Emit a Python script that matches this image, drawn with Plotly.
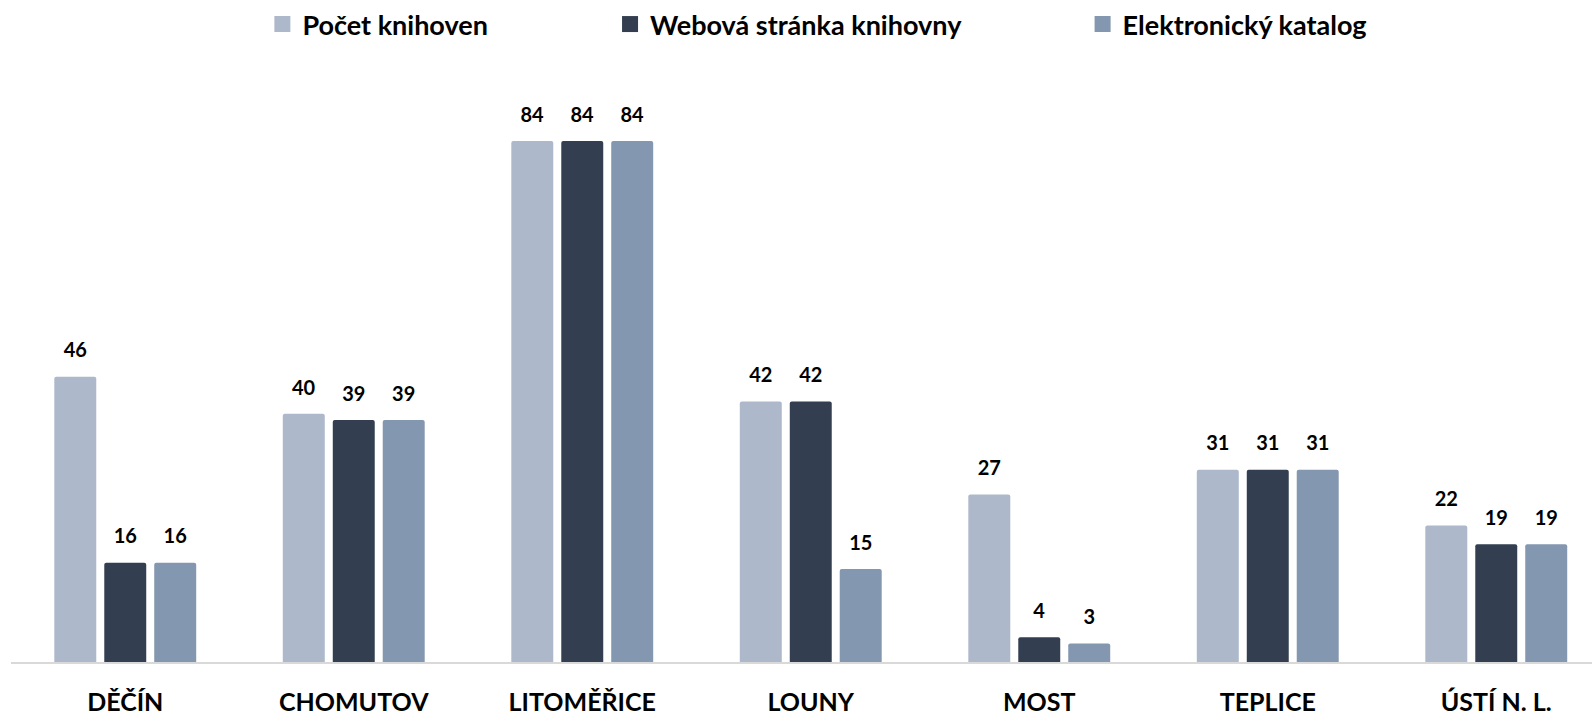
import plotly.graph_objects as go

# okresy Ústeckého kraje
okresy = ["DĚČÍN", "CHOMUTOV", "LITOMĚŘICE", "LOUNY", "MOST", "TEPLICE", "ÚSTÍ N. L."]

pocet_knihoven = [46, 40, 84, 42, 27, 31, 22]
webova_stranka = [16, 39, 84, 42, 4, 31, 19]
elektronicky_katalog = [16, 39, 84, 15, 3, 31, 19]

serie = [
    ("Počet knihoven", pocet_knihoven, "#ADB9CA", "legend"),
    ("Webová stránka knihovny", webova_stranka, "#333F50", "legend2"),
    ("Elektronický katalog", elektronicky_katalog, "#8497B0", "legend3"),
]

FONT = "Lato"

fig = go.Figure()
for nazev, hodnoty, barva, leg in serie:
    fig.add_trace(go.Bar(
        x=okresy,
        y=hodnoty,
        name=nazev,
        marker=dict(color=barva, line=dict(width=0), cornerradius=2),
        text=hodnoty,
        texttemplate="<span style='font-size:20px'>%{text}</span><br> ",
        textposition="outside",
        textfont=dict(family=FONT, size=11, color="#000000", weight="bold"),
        cliponaxis=False,
        showlegend=False,
        hoverinfo="x+y+name",
    ))
    # jen položka legendy (větší čtvercová značka)
    fig.add_trace(go.Scatter(
        x=[None], y=[None],
        mode="markers",
        name=nazev,
        marker=dict(symbol="square", size=16, color=barva),
        legend=leg,
        showlegend=True,
        hoverinfo="skip",
    ))


def legenda(x):
    return dict(
        x=x, y=1.0615, xanchor="left", yanchor="middle",
        orientation="h",
        font=dict(family=FONT, size=27, color="#000000", weight="bold"),
        bgcolor="rgba(0,0,0,0)",
        itemwidth=30,
    )


fig.update_layout(
    barmode="group",
    bargap=0.344,
    bargroupgap=0.16,
    width=1592,
    height=715,
    margin=dict(l=11, r=0, t=60, b=53),
    paper_bgcolor="white",
    plot_bgcolor="white",
    showlegend=True,
    legend=legenda(0.159),
    legend2=legenda(0.3789),
    legend3=legenda(0.6778),
    xaxis=dict(
        range=[-0.5, 6.419],
        showline=True,
        linecolor="#D9D9D9",
        linewidth=2,
        showgrid=False,
        zeroline=False,
        ticks="",
        automargin=False,
        ticklabelstandoff=17,
        tickfont=dict(family=FONT, size=25, color="#000000", weight="bold"),
    ),
    yaxis=dict(
        range=[0, 96.88],
        visible=False,
        showgrid=False,
        zeroline=False,
        automargin=False,
    ),
)

fig.write_html(
    "out.html",
    config={"displayModeBar": False},
    post_script="document.body.style.margin='0';",
)
